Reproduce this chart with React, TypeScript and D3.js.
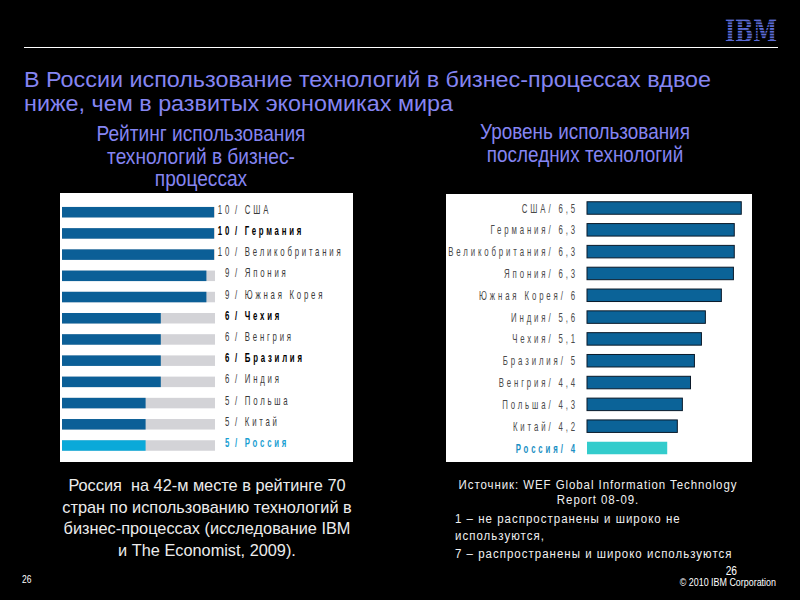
import React from 'react';
import * as d3 from 'd3';

// left chart: rating of technology use in business processes
const rankCountries = ['США', 'Германия', 'Великобритания', 'Япония', 'Южная Корея', 'Чехия', 'Венгрия', 'Бразилия', 'Индия', 'Польша', 'Китай', 'Россия'];
const rankPlace = [10, 10, 10, 9, 9, 6, 6, 6, 6, 5, 5, 5];
// bar lengths as drawn in the source (0-10 scale)
const rankBar = [10, 10, 10, 9.5, 9.5, 6.5, 6.5, 6.5, 6.5, 5.5, 5.5, 5.5];
const rankBold = ['Германия', 'Чехия', 'Бразилия'];

// right chart: level of use of latest technologies (1-7 scale)
const techCountries = ['США', 'Германия', 'Великобритания', 'Япония', 'Южная Корея', 'Индия', 'Чехия', 'Бразилия', 'Венгрия', 'Польша', 'Китай', 'Россия'];
const techScore = [6.5, 6.3, 6.3, 6.3, 6, 5.6, 5.1, 5, 4.4, 4.3, 4.2, 4];
// bar lengths as drawn in the source
const techBar = [6.5, 6.25, 6.25, 6.22, 5.79, 5.22, 5.08, 4.83, 4.69, 4.4, 4.22, 3.86];

const titleLines = ['В России использование технологий в бизнес-процессах вдвое', 'ниже, чем в развитых экономиках мира'];
const leftHead = ['Рейтинг использования', 'технологий в бизнес-', 'процессах'];
const rightHead = ['Уровень использования', 'последних технологий'];
const leftNote = ['Россия  на 42-м месте в рейтинге 70', 'стран по использованию технологий в', 'бизнес-процессах (исследование IBM', 'и The Economist, 2009).'];
const sourceNote = ['Источник: WEF Global Information Technology', 'Report 08-09.'];
const scaleNote = ['1 – не распространены и широко не', 'используются,', '7 – распространены и широко используются'];

const BLUE = '#0b5f97';
const TITLE = '#8585f2';
const SANS = '"Liberation Sans", Arial, sans-serif';

const fmt = (v: number) => String(v).replace('.', ',');

// horizontally squeezed text, stands in for a condensed face
function Sq({ x, y, sx = 0.6, anchor = 'start', size = 13, fill = '#000', weight = 'normal', ls = 0, children }: any) {
  return (
    <text transform={`translate(${x},${y}) scale(${sx},1)`} textAnchor={anchor} fontFamily={SANS}
      fontSize={size} fontWeight={weight} fill={fill} style={{ letterSpacing: `${ls}px`, whiteSpace: 'pre' }}>
      {children}
    </text>
  );
}

export default function App() {
  const yL = d3.scalePoint<string>().domain(rankCountries).range([212.2, 445.5]);
  const xL = d3.scaleLinear().domain([0, 10]).range([62, 214]);
  const yR = d3.scalePoint<string>().domain(techCountries).range([208, 448]);
  const xR = d3.scaleLinear().domain([1, 7]).range([587, 587 + 168.3]);
  const hL = 10.5;
  const hR = 12.5;

  return (
    <svg width={800} height={600} style={{ position: 'absolute', left: 0, top: 0 }}>
      <defs>
        <pattern id="stripes" width={4} height={2.8} patternUnits="userSpaceOnUse">
          <rect width={4} height={1.8} fill="#5f6fe0" />
        </pattern>
      </defs>
      <rect width={800} height={600} fill="#000" />

      {/* IBM logo and rule */}
      <text x={725} y={42} fontFamily='"DejaVu Serif", serif' fontWeight="bold" fontSize={31}
        textLength={52} lengthAdjust="spacingAndGlyphs" fill="url(#stripes)">IBM</text>
      <line x1={24} x2={778} y1={47.5} y2={47.5} stroke="#fff" strokeWidth={1.2} />

      {/* title */}
      {titleLines.map((t, i) => (
        <text key={t} x={24} y={87 + i * 24} fontFamily={SANS} fontSize={21.5} fill={TITLE}
          textLength={i === 0 ? 687 : 429} lengthAdjust="spacingAndGlyphs">{t}</text>
      ))}
      {leftHead.map((t, i) => (
        <Sq key={t} x={201} y={141 + i * 22.5} anchor="middle" sx={0.87} size={22} fill={TITLE}>{t}</Sq>
      ))}
      {rightHead.map((t, i) => (
        <Sq key={t} x={585} y={139 + i * 23} anchor="middle" sx={0.86} size={22} fill={TITLE}>{t}</Sq>
      ))}

      {/* left panel */}
      <rect x={60} y={193} width={293} height={269} fill="#fff" />
      {rankCountries.map((c, i) => {
        const y = yL(c)!;
        const isRu = c === 'Россия';
        const bold = rankBold.includes(c);
        const col = isRu ? '#1aa0d2' : bold ? '#000' : '#3a3a3a';
        const w = bold || isRu ? 'bold' : 'normal';
        return (
          <g key={c}>
            <rect x={xL(0)} y={y - hL / 2} width={xL(10) - xL(0) + 1} height={hL} fill="#d3d3d7" />
            <rect x={xL(0)} y={y - hL / 2} width={xL(rankBar[i]) - xL(0)} height={hL} fill={isRu ? '#0aa9d9' : BLUE} />
            <Sq x={232} y={y + 1.5} anchor="end" fill={col} weight={w} ls={4.6}>{rankPlace[i]}</Sq>
            <Sq x={235} y={y + 1.5} fill={col} weight={w} ls={4.6}>{`/ ${c}`}</Sq>
          </g>
        );
      })}

      {/* right panel */}
      <rect x={446} y={194} width={306} height={268} fill="#fff" />
      {techCountries.map((c, i) => {
        const y = yR(c)!;
        const isRu = c === 'Россия';
        return (
          <g key={c}>
            <rect x={xR(1)} y={y - hR / 2} width={xR(techBar[i]) - xR(1)} height={hR}
              fill={isRu ? '#33cccc' : '#0b6398'} stroke={isRu ? 'none' : '#0a1a2a'} strokeWidth={1} />
            <Sq x={578} y={y + 4.5} anchor="end" weight={isRu ? 'bold' : 'normal'}
              fill={isRu ? '#1a90c4' : '#4a4a4a'} ls={4.8}>{`${c}/ ${fmt(techScore[i])}`}</Sq>
          </g>
        );
      })}

      {/* notes */}
      {leftNote.map((t, i) => (
        <Sq key={t} x={207} y={491 + i * 21.5} anchor="middle" sx={0.96} size={17} fill="#ececec">{t}</Sq>
      ))}
      {sourceNote.map((t, i) => (
        <Sq key={t} x={598} y={489 + i * 15} anchor="middle" sx={0.85} size={13.5} fill="#f0f0f0" ls={1.1}>{t}</Sq>
      ))}
      {scaleNote.map((t, i) => (
        <Sq key={t} x={455} y={523 + i * 17.3} sx={0.85} size={13.5} fill="#f0f0f0" ls={1.2}>{t}</Sq>
      ))}

      {/* footer */}
      <Sq x={22} y={583} sx={0.85} size={10} fill="#fff">26</Sq>
      <Sq x={737} y={575} anchor="end" sx={0.85} size={12} fill="#fff">26</Sq>
      <Sq x={776} y={586} anchor="end" sx={0.85} size={10.5} fill="#fff">© 2010 IBM Corporation</Sq>
    </svg>
  );
}
